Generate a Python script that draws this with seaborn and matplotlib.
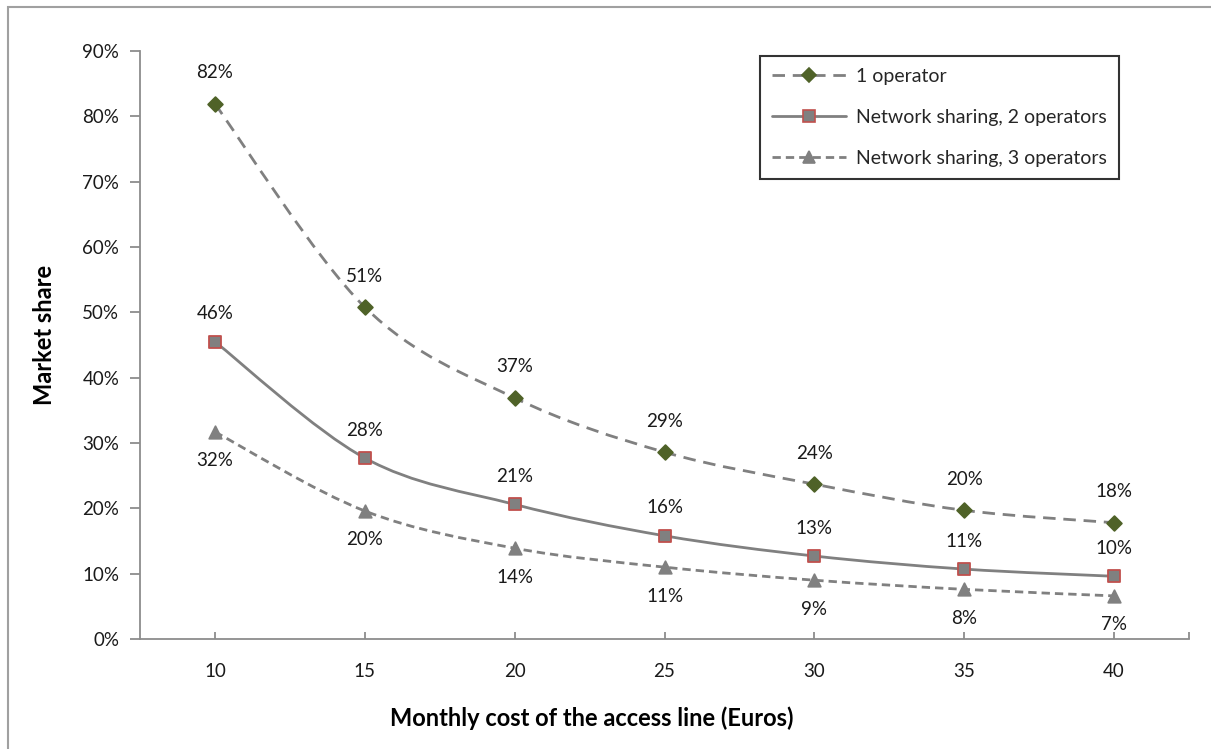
import numpy as np
import pandas as pd
import matplotlib
matplotlib.use("Agg")
import matplotlib.pyplot as plt
from matplotlib.path import Path
from matplotlib.patches import PathPatch, Rectangle
from matplotlib.lines import Line2D
from matplotlib.ticker import PercentFormatter, FixedLocator
import seaborn as sns

# Monthly cost of the access line (Euros)
cost = [10, 15, 20, 25, 30, 35, 40]
# Market share per scenario
one_operator = [0.819, 0.508, 0.369, 0.286, 0.237, 0.197, 0.178]
sharing_two = [0.455, 0.277, 0.206, 0.158, 0.127, 0.107, 0.096]
sharing_three = [0.317, 0.196, 0.139, 0.110, 0.090, 0.076, 0.066]

series_names = ["1 operator", "Network sharing, 2 operators", "Network sharing, 3 operators"]
y_ticks = [0, 0.1, 0.2, 0.3, 0.4, 0.5, 0.6, 0.7, 0.8, 0.9]

df = pd.concat([
    pd.DataFrame({"cost": cost, "share": one_operator, "series": series_names[0]}),
    pd.DataFrame({"cost": cost, "share": sharing_two, "series": series_names[1]}),
    pd.DataFrame({"cost": cost, "share": sharing_three, "series": series_names[2]}),
])

sns.set_theme(style="white")
plt.rcParams["font.family"] = ["Lato", "DejaVu Sans"]

GRAY = "#808080"
TXT = "#1a1a1a"
styles = {
    series_names[0]: dict(marker="D", ms=7.5, mfc="#4F6228", mec="#4F6228", ls=(0, (4.5, 2.8)), label_dy=31),
    series_names[1]: dict(marker="s", ms=8, mfc=GRAY, mec="#C0504D", ls="-", label_dy=28),
    series_names[2]: dict(marker="^", ms=9, mfc=GRAY, mec=GRAY, ls=(0, (3.0, 1.8)), label_dy=-29),
}

fig = plt.figure(figsize=(12.11, 7.49), dpi=100)
ax = fig.add_axes([140 / 1211, 1 - 639 / 749, (1189 - 140) / 1211, (639 - 51) / 749])


def smooth_path(xs, ys):
    """Cubic Bezier path through the points (Catmull-Rom style smoothing)."""
    pts = np.column_stack([xs, ys]).astype(float)
    ext = np.vstack([pts[0], pts, pts[-1]])
    verts = [tuple(pts[0])]
    codes = [Path.MOVETO]
    for i in range(len(pts) - 1):
        p0, p1, p2, p3 = ext[i], ext[i + 1], ext[i + 2], ext[i + 3]
        c1 = p1 + (p2 - p0) / 6.0
        c2 = p2 - (p3 - p1) / 6.0
        verts += [tuple(c1), tuple(c2), tuple(p2)]
        codes += [Path.CURVE4] * 3
    return Path(verts, codes)


for name in series_names:
    sub = df[df["series"] == name]
    st = styles[name]
    patch = PathPatch(smooth_path(sub["cost"], sub["share"]), fill=False,
                      edgecolor=GRAY, lw=2.0, linestyle=st["ls"], zorder=2)
    ax.add_patch(patch)
    sns.scatterplot(data=sub, x="cost", y="share", marker=st["marker"],
                    s=st["ms"] ** 2, color=st["mfc"], edgecolor=st["mec"],
                    linewidth=1.3, zorder=3, legend=False, ax=ax)
    for xv, yv in zip(sub["cost"], sub["share"]):
        ax.annotate(f"{round(yv * 100):d}%", (xv, yv), xytext=(0, st["label_dy"]),
                    textcoords="offset pixels", ha="center", va="center",
                    fontsize=13.5, color=TXT, zorder=4)

ax.set_xlim(7.5, 42.5)
ax.set_ylim(0, 0.9)
ax.xaxis.set_major_locator(FixedLocator(cost))
ax.xaxis.set_minor_locator(FixedLocator([42.5]))
ax.yaxis.set_major_locator(FixedLocator(y_ticks))
ax.yaxis.set_major_formatter(PercentFormatter(1.0, decimals=0))

for side in ["top", "right"]:
    ax.spines[side].set_visible(False)
for side in ["left", "bottom"]:
    ax.spines[side].set_color("#8c8c8c")
    ax.spines[side].set_linewidth(1.3)

ax.tick_params(axis="y", direction="out", length=7, width=1.3, color="#8c8c8c",
               labelsize=13.5, labelcolor=TXT, pad=8, left=True)
ax.tick_params(axis="x", which="both", direction="in", length=5, width=1.3, color="#8c8c8c",
               labelsize=13.5, labelcolor=TXT, pad=17, bottom=True)

ax.set_xlabel("Monthly cost of the access line (Euros)", fontsize=17, fontweight="bold",
              color="black", va="center")
ax.set_ylabel("Market share", fontsize=17, fontweight="bold", color="black", va="center")
ax.xaxis.set_label_coords((592 - 140) / 1049, -(718 - 639) / 588)
ax.yaxis.set_label_coords(-(140 - 45) / 1049, (639 - 335) / 588)

handles = []
for name in series_names:
    st = styles[name]
    handles.append(Line2D([0], [0], color=GRAY, lw=2.0, linestyle=st["ls"], marker=st["marker"],
                          markersize=st["ms"], markerfacecolor=st["mfc"],
                          markeredgecolor=st["mec"], markeredgewidth=1.2))
leg = ax.legend(handles, series_names, loc="upper left",
                bbox_to_anchor=((760 - 140) / 1049, (639 - 56) / 588),
                frameon=True, fancybox=False, fontsize=14, handlelength=3.8,
                labelspacing=1.24, borderpad=0.62, handletextpad=0.5, borderaxespad=0)
leg.get_frame().set_edgecolor("black")
leg.get_frame().set_linewidth(1.5)

# outer chart frame
fig.add_artist(Rectangle((8 / 1211, -0.01), 1.1, 1 - 7 / 749 + 0.01, transform=fig.transFigure,
                         fill=False, edgecolor="#a0a0a0", lw=1.5))

fig.savefig("out.png", dpi=100, facecolor="white")
